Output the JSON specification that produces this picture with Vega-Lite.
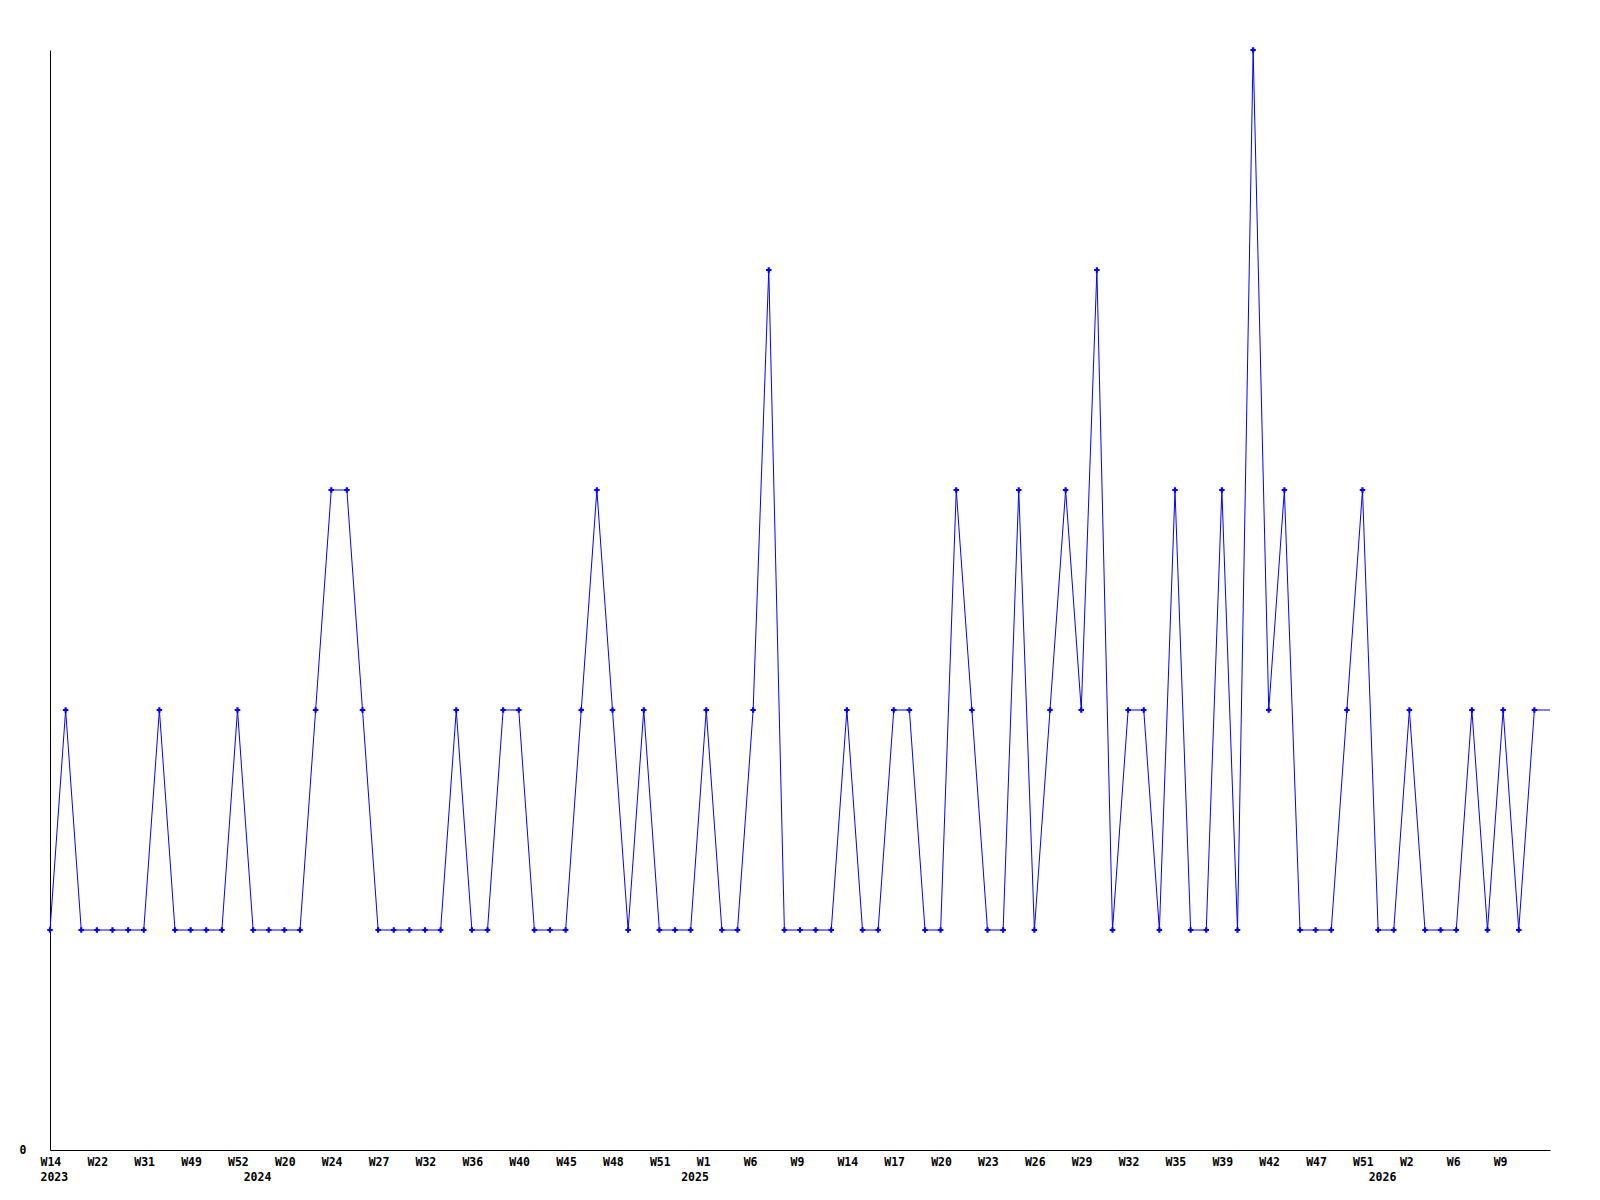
{
  "$schema": "https://vega.github.io/schema/vega-lite/v6.json",
  "autosize": {"type": "none"},
  "padding": {"left": 50, "top": 50, "right": 50, "bottom": 50},
  "width": 1500,
  "height": 1100,
  "background": "white",
  "config": {"view": {"stroke": null}},
  "data": {"values": [
    {"tick": "0|W14|2023", "count": 1},
    {"tick": "1||", "count": 2},
    {"tick": "2||", "count": 1},
    {"tick": "3|W22|", "count": 1},
    {"tick": "4||", "count": 1},
    {"tick": "5||", "count": 1},
    {"tick": "6|W31|", "count": 1},
    {"tick": "7||", "count": 2},
    {"tick": "8||", "count": 1},
    {"tick": "9|W49|", "count": 1},
    {"tick": "10||", "count": 1},
    {"tick": "11||", "count": 1},
    {"tick": "12|W52|", "count": 2},
    {"tick": "13||2024", "count": 1},
    {"tick": "14||", "count": 1},
    {"tick": "15|W20|", "count": 1},
    {"tick": "16||", "count": 1},
    {"tick": "17||", "count": 2},
    {"tick": "18|W24|", "count": 3},
    {"tick": "19||", "count": 3},
    {"tick": "20||", "count": 2},
    {"tick": "21|W27|", "count": 1},
    {"tick": "22||", "count": 1},
    {"tick": "23||", "count": 1},
    {"tick": "24|W32|", "count": 1},
    {"tick": "25||", "count": 1},
    {"tick": "26||", "count": 2},
    {"tick": "27|W36|", "count": 1},
    {"tick": "28||", "count": 1},
    {"tick": "29||", "count": 2},
    {"tick": "30|W40|", "count": 2},
    {"tick": "31||", "count": 1},
    {"tick": "32||", "count": 1},
    {"tick": "33|W45|", "count": 1},
    {"tick": "34||", "count": 2},
    {"tick": "35||", "count": 3},
    {"tick": "36|W48|", "count": 2},
    {"tick": "37||", "count": 1},
    {"tick": "38||", "count": 2},
    {"tick": "39|W51|", "count": 1},
    {"tick": "40||", "count": 1},
    {"tick": "41||2025", "count": 1},
    {"tick": "42|W1|", "count": 2},
    {"tick": "43||", "count": 1},
    {"tick": "44||", "count": 1},
    {"tick": "45|W6|", "count": 2},
    {"tick": "46||", "count": 4},
    {"tick": "47||", "count": 1},
    {"tick": "48|W9|", "count": 1},
    {"tick": "49||", "count": 1},
    {"tick": "50||", "count": 1},
    {"tick": "51|W14|", "count": 2},
    {"tick": "52||", "count": 1},
    {"tick": "53||", "count": 1},
    {"tick": "54|W17|", "count": 2},
    {"tick": "55||", "count": 2},
    {"tick": "56||", "count": 1},
    {"tick": "57|W20|", "count": 1},
    {"tick": "58||", "count": 3},
    {"tick": "59||", "count": 2},
    {"tick": "60|W23|", "count": 1},
    {"tick": "61||", "count": 1},
    {"tick": "62||", "count": 3},
    {"tick": "63|W26|", "count": 1},
    {"tick": "64||", "count": 2},
    {"tick": "65||", "count": 3},
    {"tick": "66|W29|", "count": 2},
    {"tick": "67||", "count": 4},
    {"tick": "68||", "count": 1},
    {"tick": "69|W32|", "count": 2},
    {"tick": "70||", "count": 2},
    {"tick": "71||", "count": 1},
    {"tick": "72|W35|", "count": 3},
    {"tick": "73||", "count": 1},
    {"tick": "74||", "count": 1},
    {"tick": "75|W39|", "count": 3},
    {"tick": "76||", "count": 1},
    {"tick": "77||", "count": 5},
    {"tick": "78|W42|", "count": 2},
    {"tick": "79||", "count": 3},
    {"tick": "80||", "count": 1},
    {"tick": "81|W47|", "count": 1},
    {"tick": "82||", "count": 1},
    {"tick": "83||", "count": 2},
    {"tick": "84|W51|", "count": 3},
    {"tick": "85||2026", "count": 1},
    {"tick": "86||", "count": 1},
    {"tick": "87|W2|", "count": 2},
    {"tick": "88||", "count": 1},
    {"tick": "89||", "count": 1},
    {"tick": "90|W6|", "count": 1},
    {"tick": "91||", "count": 2},
    {"tick": "92||", "count": 1},
    {"tick": "93|W9|", "count": 2},
    {"tick": "94||", "count": 1},
    {"tick": "95||", "count": 2},
    {"tick": "96||", "count": 2}
  ]},
  "encoding": {
    "x": {
      "field": "tick",
      "type": "ordinal",
      "sort": null,
      "scale": {"type": "point", "padding": 0},
      "axis": {
        "title": null,
        "ticks": false,
        "grid": false,
        "domainColor": "black",
        "domainWidth": 1,
        "labelExpr": "slice(split(datum.value, '|'), 1)",
        "labelAngle": 0,
        "labelAlign": "left",
        "labelBaseline": "top",
        "labelOffset": -10,
        "labelPadding": 6,
        "labelLineHeight": 15,
        "labelOverlap": false,
        "labelFont": "DejaVu Sans Mono",
        "labelFontWeight": "bold",
        "labelFontSize": 11.5,
        "labelColor": "black",
        "labelBound": false,
        "labelFlush": false
      }
    },
    "y": {
      "field": "count",
      "type": "quantitative",
      "scale": {"domain": [0, 5], "nice": false, "zero": true},
      "axis": {
        "title": null,
        "values": [0],
        "ticks": false,
        "grid": false,
        "domainColor": "black",
        "domainWidth": 1,
        "labelPadding": 24,
        "labelFont": "DejaVu Sans Mono",
        "labelFontWeight": "bold",
        "labelFontSize": 11.5,
        "labelColor": "black"
      }
    }
  },
  "layer": [
    {
      "mark": {"type": "line", "color": "#0000ff", "strokeWidth": 1, "interpolate": "linear"}
    },
    {
      "transform": [{"filter": "datum.tick != '96||'"}],
      "mark": {"type": "point", "shape": "cross", "filled": true, "color": "#0000ff", "size": 30, "opacity": 1}
    }
  ]
}
